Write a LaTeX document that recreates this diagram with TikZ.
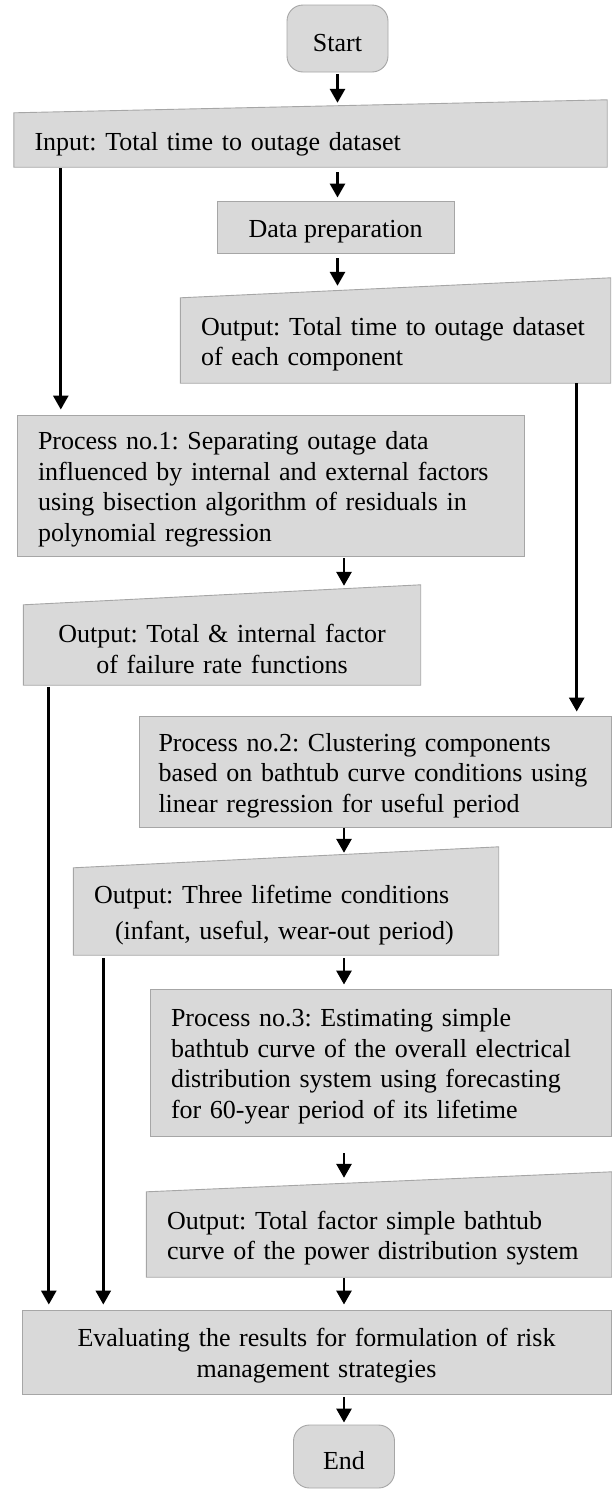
\documentclass[tikz,border=0pt]{standalone}
\usepackage{fontspec}
\setmainfont{Liberation Serif}
\usetikzlibrary{arrows.meta, positioning, backgrounds}
\definecolor{boxgray}{RGB}{217,217,217}
\definecolor{edgegray}{RGB}{166,166,166}
\hyphenpenalty=10000
\newcommand{\topstrut}{\rule{0pt}{26pt}}
% box with a sloping top edge (manual input)
\newcommand{\slantbox}[2]{%
  \draw[draw=edgegray, fill=boxgray, line width=0.9pt]
    (#1.south west) -- (#1.north west) -- ([yshift=#2]#1.north east)
    -- (#1.south east) -- cycle;}

\begin{document}
\begin{tikzpicture} [%
    x = 1pt,
    y = -1pt,
    font = \fontsize{26pt}{30.5pt}\selectfont\frenchspacing,
    >= { Triangle[width=15pt, length=14pt] },
    flow/.style = {->, line width=2.8pt, shorten <=2pt, shorten >=4pt},
    procbox/.style = {%
      rectangle,
      draw = edgegray,
      fill = boxgray,
      line width = 0.9pt,
      inner xsep = 20.5pt,
      inner ysep = 0pt,
      align = left,
      execute at begin node = \topstrut },
    iobox/.style = {%
      rectangle,
      inner xsep = 20.5pt,
      inner ysep = 0pt,
      align = left,
      execute at begin node = \topstrut },
    termbox/.style = {%
      rectangle,
      rounded corners = 16pt,
      draw = edgegray,
      fill = boxgray,
      line width = 0.9pt,
      minimum width = 101pt,
      align = center,
      execute at begin node = \topstrut }
  ]
  \useasboundingbox (0,0) rectangle (611,1489);

  \node[termbox, minimum height=67pt] (start) at (337.5,38.5) {Start};
  \node[iobox, text width=552pt, minimum height=54pt] (inp) at (310.5,140)
    {Input: Total time to outage dataset};
  \node[procbox, align=center, minimum width=237pt, minimum height=52pt] (prep) at (335.5,227)
    {Data preparation};
  \node[iobox, text width=389pt, minimum height=85pt] (out1) at (395.5,340.5)
    {Output: Total time to outage dataset\\ of each component};
  \node[procbox, text width=466pt, minimum height=141pt] (proc1) at (271,485.5)
    {Process no.1: Separating outage data\\ influenced by internal and external factors\\
     using bisection algorithm of residuals in\\ polynomial regression};
  \node[iobox, align=center, text width=356pt, minimum height=80pt] (out2) at (222,645)
    {Output: Total \& internal factor\\ of failure rate functions};
  \node[procbox, inner xsep=19pt, text width=434pt, minimum height=111pt] (proc2) at (375.5,771.5)
    {Process no.2: Clustering components\\ based on bathtub curve conditions using\\
     linear regression for useful period};
  \node[iobox, text width=384pt, minimum height=87pt] (out3) at (286,911.5)
    {Output: Three lifetime conditions\\[6pt] \hspace*{21pt}(infant, useful, wear-out period)};
  \node[procbox, text width=420pt, minimum height=147pt] (proc3) at (381,1062.5)
    {Process no.3: Estimating simple\\ bathtub curve of the overall electrical\\
     distribution system using forecasting\\ for 60-year period of its lifetime};
  \node[iobox, text width=424pt, minimum height=85pt] (out4) at (379,1234.5)
    {Output: Total factor simple bathtub\\ curve of the power distribution system};
  \node[procbox, align=center, text width=548pt, minimum height=84pt] (final) at (316.5,1352)
    {Evaluating the results for formulation of risk\\ management strategies};
  \node[termbox, minimum height=63pt] (end) at (344,1456.5) {End};

  \begin{scope}[on background layer]
    \slantbox{inp}{13pt}
    \slantbox{out1}{20pt}
    \slantbox{out2}{20pt}
    \slantbox{out3}{21pt}
    \slantbox{out4}{20pt}
  \end{scope}

  % main column
  \draw[flow, shorten >=10pt] (start.south) -- (start.south |- inp.north);
  \draw[flow, shorten <=5pt, shorten >=3pt] (start.south |- inp.south) -- (start.south |- prep.north);
  \draw[flow, shorten <=5pt, shorten >=12pt] (start.south |- prep.south) -- (start.south |- out1.north);
  \draw[flow, shorten >=19pt] (proc1.south -| end.north) -- (out2.north -| end.north);
  \draw[flow, shorten <=1pt, shorten >=15pt] (proc2.south -| end.north) -- (out3.north -| end.north);
  \draw[flow, shorten <=3pt] (out3.south -| end.north) -- (proc3.north -| end.north);
  \draw[flow, shorten <=17pt, shorten >=14pt] (proc3.south -| end.north) -- (out4.north -| end.north);
  \draw[flow, shorten <=1pt, shorten >=5pt] (out4.south -| end.north) -- (final.north -| end.north);
  \draw[flow, shorten <=3pt, shorten >=2pt] (final.south -| end.north) -- (end.north);

  % side lines
  \draw[flow, shorten <=1pt, shorten >=5pt] ([xshift=47pt]inp.south west) -- ([xshift=47pt]inp.south west |- proc1.north);
  \draw[flow, shorten <=0pt] ([xshift=-34pt]out1.south east) -- ([xshift=-34pt]out1.south east |- proc2.north);
  \draw[flow, shorten >=5pt] ([xshift=25.5pt]out2.south west) -- ([xshift=25.5pt]out2.south west |- final.north);
  \draw[flow, shorten <=3pt, shorten >=5pt] ([xshift=30pt]out3.south west) -- ([xshift=30pt]out3.south west |- final.north);
\end{tikzpicture}
\end{document}
